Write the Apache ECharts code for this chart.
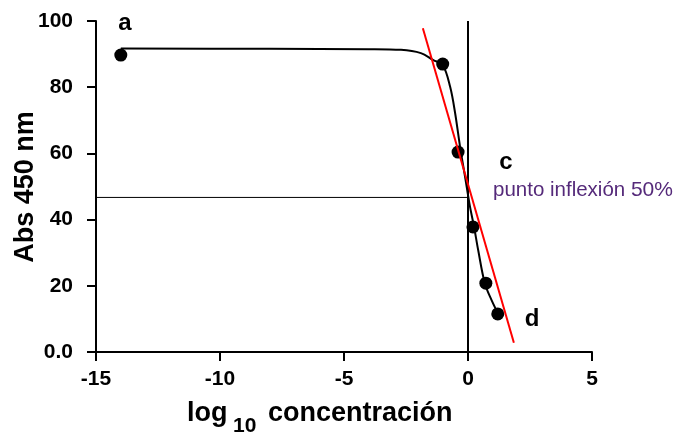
<!DOCTYPE html>
<html>
<head>
<meta charset="utf-8">
<script src="https://cdn.jsdelivr.net/npm/echarts@6/dist/echarts.min.js"></script>
<style>html,body{margin:0;padding:0;background:#fff}#c{width:679px;height:434px}</style>
</head>
<body>
<div id="c"></div>
<script>
// Measured points
var pointX = [-14, -1.02, -0.40, 0.20, 0.72, 1.20];
var pointY = [89.7, 87.0, 60.4, 37.8, 20.8, 11.5];
// Fitted sigmoid curve
var curveX = [-14, -8, -4, -2.7, -1.9, -1.4, -1.02, -0.72, -0.52, -0.32, -0.12, 0.08, 0.24, 0.41, 0.68, 0.95, 1.22];
var curveY = [91.7, 91.6, 91.5, 91.3, 90.3, 88.2, 86.7, 80.1, 72.2, 62.0, 53.0, 43.9, 38.0, 30.8, 20.7, 15.7, 11.5];
// Red tangent line
var tangentX = [-1.82, 1.85];
var tangentY = [97.8, 2.8];
// Reference lines
var half = 46.7;
var xTicks = [-15, -10, -5, 0, 5];
var yTicks = [0, 20, 40, 60, 80, 100];

function zip(a, b) { return a.map(function (v, i) { return [v, b[i]]; }); }

var font = "'Liberation Sans', Arial, sans-serif";
var chart = echarts.init(document.getElementById('c'));
chart.setOption({
  animation: false,
  backgroundColor: '#fff',
  grid: { left: 96, right: 87, top: 21, bottom: 82 },
  xAxis: {
    type: 'value', min: xTicks[0], max: xTicks[xTicks.length - 1], interval: 5,
    splitLine: { show: false },
    axisLine: { onZero: false, lineStyle: { color: '#000', width: 2 } },
    axisTick: { inside: false, length: 9, lineStyle: { color: '#000', width: 2 } },
    axisLabel: { color: '#000', fontFamily: font, fontWeight: 'bold', fontSize: 21, margin: 17 }
  },
  yAxis: {
    type: 'value', min: yTicks[0], max: yTicks[yTicks.length - 1], interval: 20,
    splitLine: { show: false },
    axisLine: { onZero: false, lineStyle: { color: '#000', width: 2 } },
    axisTick: { inside: false, length: 9, lineStyle: { color: '#000', width: 2 } },
    axisLabel: { color: '#000', fontFamily: font, fontWeight: 'bold', fontSize: 21, margin: 23,
      formatter: function (v) { return v === 0 ? '0.0' : String(v); } }
  },
  series: [
    { type: 'line', data: [[0, yTicks[0]], [0, yTicks[yTicks.length - 1]]], showSymbol: false, silent: true,
      lineStyle: { color: '#000', width: 2 } },
    { type: 'line', data: [[xTicks[0], half], [0, half]], showSymbol: false, silent: true,
      lineStyle: { color: '#000', width: 1 } },
    { type: 'line', data: zip(curveX, curveY), smooth: 0.35, showSymbol: false,
      lineStyle: { color: '#000', width: 2 } },
    { type: 'scatter', data: zip(pointX, pointY), symbolSize: 13, itemStyle: { color: '#000', opacity: 1 } },
    { type: 'line', data: zip(tangentX, tangentY), showSymbol: false,
      lineStyle: { color: '#ff0000', width: 2 } }
  ],
  graphic: [
    { type: 'text', x: 26, y: 187, rotation: Math.PI / 2,
      style: { text: 'Abs 450 nm', font: 'bold 27px ' + font, fill: '#000', align: 'center', verticalAlign: 'middle' } },
    { type: 'text', x: 187, y: 414,
      style: { text: 'log', font: 'bold 27px ' + font, fill: '#000', align: 'left', verticalAlign: 'middle' } },
    { type: 'text', x: 233, y: 426,
      style: { text: '10', font: 'bold 21px ' + font, fill: '#000', align: 'left', verticalAlign: 'middle' } },
    { type: 'text', x: 268, y: 414,
      style: { text: 'concentración', font: 'bold 27px ' + font, fill: '#000', align: 'left', verticalAlign: 'middle' } },
    { type: 'text', x: 125, y: 23,
      style: { text: 'a', font: 'bold 24px ' + font, fill: '#000', align: 'center', verticalAlign: 'middle' } },
    { type: 'text', x: 506, y: 162,
      style: { text: 'c', font: 'bold 24px ' + font, fill: '#000', align: 'center', verticalAlign: 'middle' } },
    { type: 'text', x: 532, y: 319,
      style: { text: 'd', font: 'bold 24px ' + font, fill: '#000', align: 'center', verticalAlign: 'middle' } },
    { type: 'text', x: 493, y: 190,
      style: { text: 'punto inflexión {b|50%}', font: '20.5px ' + font, fill: '#552a7a', align: 'left', verticalAlign: 'middle',
        rich: { b: { fontSize: 21, fontFamily: font, fill: '#552a7a' } } } }
  ]
});
</script>
</body>
</html>
